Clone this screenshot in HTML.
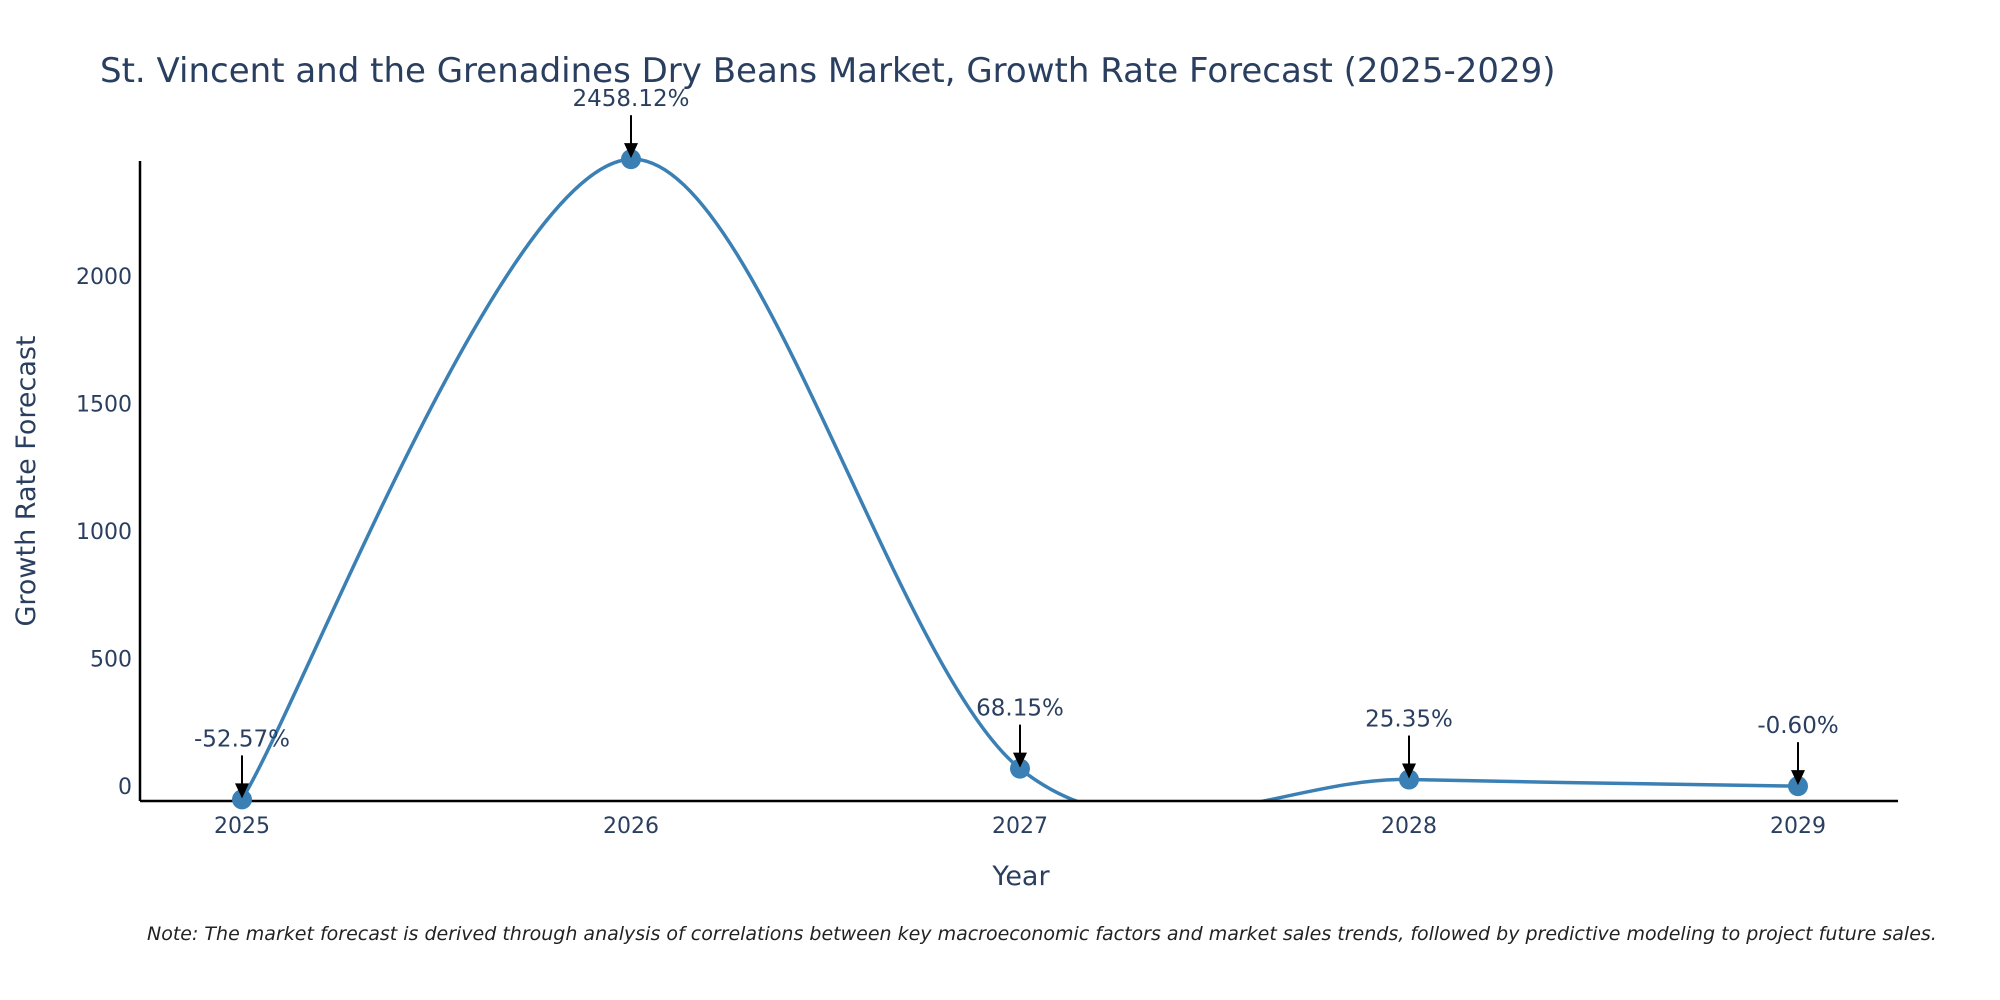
<!DOCTYPE html>
<html><head><meta charset="utf-8"><style>
body{margin:0;background:#fff;}
svg{display:block;font-family:"DejaVu Sans","Liberation Sans",sans-serif;}
</style></head><body>
<svg id="chart" width="2000" height="1000">
<defs><clipPath id="clip"><rect x="140" y="150" width="1760" height="651"/></clipPath></defs>
<text x="100" y="82" font-size="34" fill="#2a3f5f">St. Vincent and the Grenadines Dry Beans Market, Growth Rate Forecast (2025-2029)</text>
<text transform="translate(35,481) rotate(-90)" text-anchor="middle" font-size="27" fill="#2a3f5f">Growth Rate Forecast</text>
<text x="1021" y="885" text-anchor="middle" font-size="27" fill="#2a3f5f">Year</text>
<text x="147" y="940" font-size="19" font-style="italic" fill="#222">Note: The market forecast is derived through analysis of correlations between key macroeconomic factors and market sales trends, followed by predictive modeling to project future sales.</text>
<g id="plot"></g>
</svg>
<script>
const years = [2025, 2026, 2027, 2028, 2029];
const growth = [-52.57, 2458.12, 68.15, 25.35, -0.60];
const labels = ["-52.57%", "2458.12%", "68.15%", "25.35%", "-0.60%"];
const yTicks = [0, 500, 1000, 1500, 2000];

const NS = "http://www.w3.org/2000/svg";
const g = document.getElementById("plot");
const L = 140, R = 1898, T = 161, B = 801;
const x = v => 242 + (v - 2025) * 389;
const y = v => 786 - v * 0.255;
function mk(tag, attrs, parent) {
  const e = document.createElementNS(NS, tag);
  for (const k in attrs) e.setAttribute(k, attrs[k]);
  (parent || g).appendChild(e);
  return e;
}
yTicks.forEach(t => {
  const e = mk("text", {x: L - 8, y: y(t) + 8, "text-anchor": "end", "font-size": 22, fill: "#2a3f5f"});
  
  
  e.textContent = t;
});
years.forEach(yr => {
  const e = mk("text", {x: x(yr), y: B + 32, "text-anchor": "middle", "font-size": 22, fill: "#2a3f5f"});
  
  
  e.textContent = yr;
});
const pts = years.map((yr, i) => [x(yr), y(growth[i])]);
let d = "M" + pts[0][0] + "," + pts[0][1];
const s = 0.16;
for (let i = 0; i < pts.length - 1; i++) {
  const p0 = pts[Math.max(i - 1, 0)], p1 = pts[i], p2 = pts[i + 1], p3 = pts[Math.min(i + 2, pts.length - 1)];
  const c1 = [p1[0] + (p2[0] - p0[0]) * s, p1[1] + (p2[1] - p0[1]) * s];
  const c2 = [p2[0] - (p3[0] - p1[0]) * s, p2[1] - (p3[1] - p1[1]) * s];
  d += " C" + c1 + " " + c2 + " " + p2;
}
const line = mk("path", {d: d, fill: "none", stroke: "#3b80b4", "stroke-width": 3.5, "clip-path": "url(#clip)"});


const ya = mk("line", {x1: L, y1: T, x2: L, y2: B, stroke: "#000", "stroke-width": 2.5});


const xa = mk("line", {x1: L, y1: B, x2: R, y2: B, stroke: "#000", "stroke-width": 2.5});


pts.forEach((p, i) => {
  const c = mk("circle", {cx: p[0], cy: p[1], r: 10, fill: "#3b80b4"});
  
  
  const a = mk("line", {x1: p[0], y1: p[1] - 44, x2: p[0], y2: p[1] - 14, stroke: "#000", "stroke-width": 2});
  
  
  const h = mk("polygon", {points: (p[0]-7)+","+(p[1]-16)+" "+(p[0]+7)+","+(p[1]-16)+" "+p[0]+","+(p[1]-1), fill: "#000"});
  
  
  const t = mk("text", {x: p[0], y: p[1] - 53, "text-anchor": "middle", "font-size": 23, fill: "#2a3f5f"});
  
  
  t.textContent = labels[i];
});
</script>
</body></html>
